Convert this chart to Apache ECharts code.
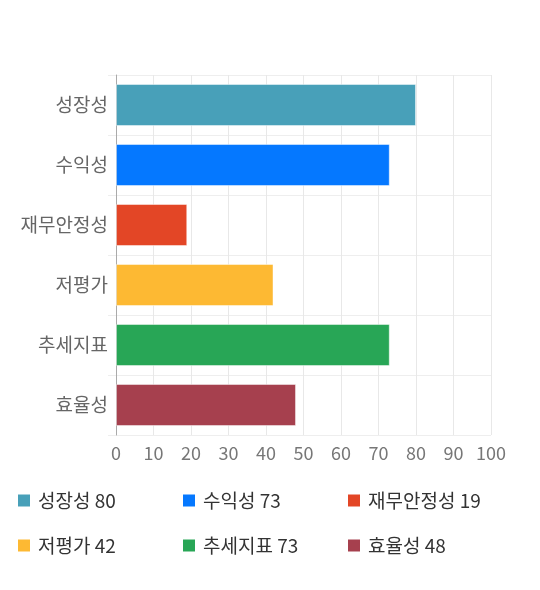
<!DOCTYPE html>
<html>
<head>
<meta charset="utf-8">
<script src="https://cdn.jsdelivr.net/npm/echarts@6/dist/echarts.min.js"></script>
<style>
  html, body { margin: 0; padding: 0; background: #fff; }
  #chart { width: 540px; height: 590px; }
</style>
</head>
<body>
<div id="chart"></div>
<script>
// 항목별 점수
var categories = ['성장성', '수익성', '재무안정성', '저평가', '추세지표', '효율성'];
var scores = [80, 73, 19, 42, 73, 48];
var barColors = ['#48a0b9', '#0578ff', '#e34626', '#fdb933', '#28a656', '#a6404e'];

var font = '"Noto Sans CJK KR", "Noto Sans", sans-serif';

// 카테고리마다 색이 다른 막대: 시리즈 하나당 한 칸만 채우고 stack 으로 겹친다
var series = categories.map(function (name, i) {
  var data = categories.map(function (c, j) { return j === i ? scores[i] : '-'; });
  return {
    name: name,
    type: 'bar',
    stack: 'all',
    barWidth: 42,
    data: data,
    itemStyle: {
      color: barColors[i],
      borderColor: 'rgba(255,255,255,0.45)',
      borderWidth: 1
    }
  };
});

function legendBlock(names, top) {
  return {
    data: names,
    left: 18,
    top: top,
    padding: 0,
    orient: 'horizontal',
    icon: 'rect',
    itemWidth: 12,
    itemHeight: 12,
    itemGap: 14,
    selectedMode: false,
    itemStyle: { borderWidth: 0 },
    formatter: function (n) { return '{t|' + n + ' ' + scores[categories.indexOf(n)] + '}'; },
    textStyle: {
      rich: { t: { fontFamily: font, fontSize: 19, color: '#333', width: 131, lineHeight: 24, padding: [0, 0, 0, 3] } }
    }
  };
}

var chart = echarts.init(document.getElementById('chart'));
chart.setOption({
  animation: false,
  grid: { left: 116, right: 49, top: 75, bottom: 155 },
  xAxis: {
    type: 'value',
    min: 0,
    max: 100,
    interval: 10,
    axisLine: { show: false },
    axisTick: { show: false },
    axisLabel: { color: '#777', fontSize: 18, fontFamily: font, margin: 9 },
    splitLine: { lineStyle: { color: '#e8e8e8' } }
  },
  yAxis: {
    type: 'category',
    data: categories,
    inverse: true,
    axisLine: { show: true, lineStyle: { color: '#aaa' } },
    axisTick: { show: true, length: 8, lineStyle: { color: '#eee' } },
    axisLabel: { color: '#666', fontSize: 19, fontFamily: font, margin: 8 },
    splitLine: { show: true, lineStyle: { color: '#eee' } }
  },
  legend: [
    legendBlock(categories.slice(0, 3), 491),
    legendBlock(categories.slice(3, 6), 536)
  ],
  series: series
});
</script>
</body>
</html>
